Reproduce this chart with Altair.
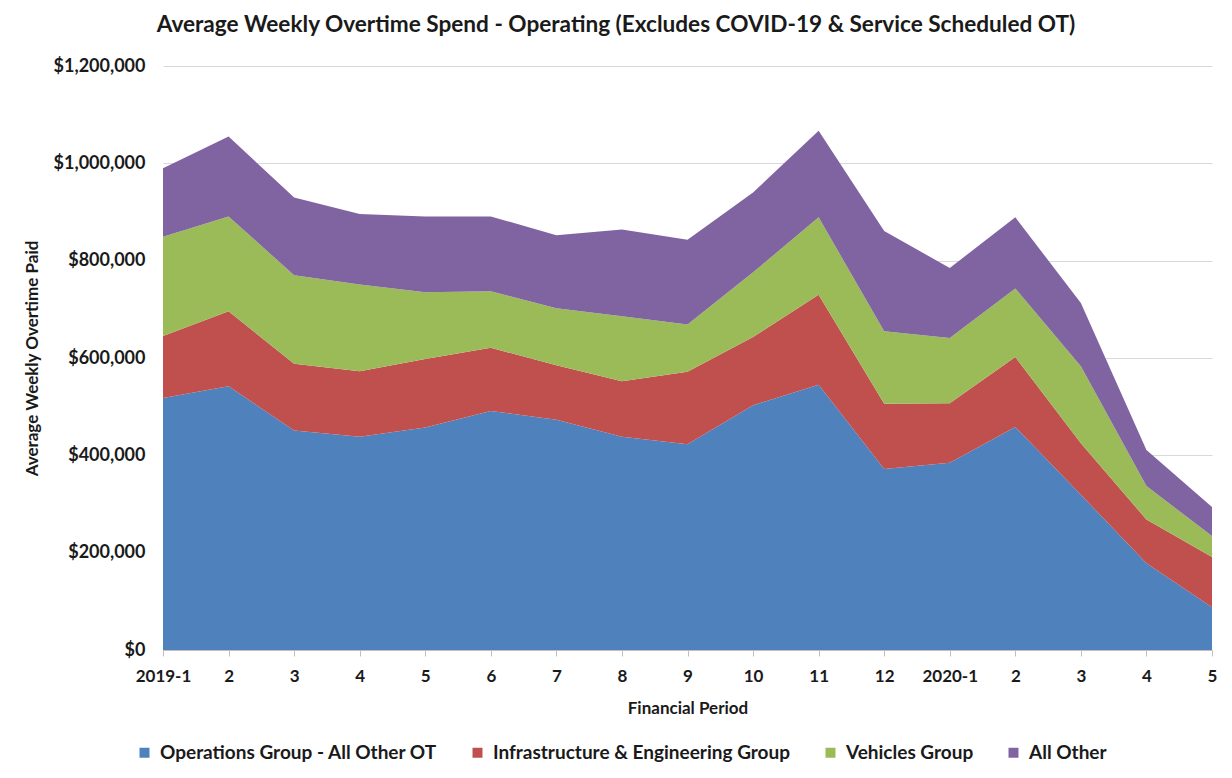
import altair as alt
import pandas as pd

periods = ["2019-1", "2", "3", "4", "5", "6", "7", "8", "9", "10", "11", "12",
           "2020-1", "2", "3", "4", "5"]
series = ["Operations Group - All Other OT", "Infrastructure & Engineering Group",
          "Vehicles Group", "All Other"]
colors = ["#4F81BD", "#C0504D", "#9BBB59", "#8064A2"]

ops = [518000, 542000, 451000, 438000, 457000, 491000, 473000, 438000, 423000,
       503000, 545000, 372000, 385000, 458000, 319000, 178000, 88000]
infra = [127000, 154000, 137000, 135000, 141000, 130000, 112000, 114000, 149000,
         140000, 185000, 134000, 122000, 144000, 106000, 90000, 103000]
vehicles = [204000, 195000, 182000, 178000, 137000, 116000, 117000, 134000, 97000,
            133000, 159000, 149000, 134000, 141000, 158000, 69000, 43000]
all_other = [141000, 164000, 160000, 145000, 156000, 154000, 150000, 178000, 174000,
             164000, 178000, 206000, 144000, 146000, 130000, 74000, 60000]

rows = []
for si, (name, vals) in enumerate(zip(series, [ops, infra, vehicles, all_other])):
    for i, v in enumerate(vals):
        rows.append({"idx": i, "period": periods[i], "series": name, "order": si, "value": v})
df = pd.DataFrame(rows)

label_arr = "[" + ",".join("'%s'" % p for p in periods) + "]"
FONT = "Lato"
TXT = "#1a1a1a"

chart = alt.Chart(df).mark_area(interpolate="linear").encode(
    x=alt.X("idx:Q",
            scale=alt.Scale(domain=[0, len(periods) - 1], nice=False, zero=False),
            axis=alt.Axis(values=list(range(len(periods))),
                          labelExpr=label_arr + "[datum.value]",
                          title="Financial Period", grid=False,
                          domainColor="#bfbfbf", tickColor="#bfbfbf", tickSize=6,
                          labelPadding=12, titlePadding=16,
                          labelFont=FONT, labelFontSize=17, labelFontWeight="bold",
                          labelColor=TXT, titleFont=FONT, titleFontSize=17,
                          titleFontWeight="bold", titleColor=TXT, labelFlush=False)),
    y=alt.Y("value:Q", stack="zero",
            scale=alt.Scale(domain=[0, 1200000], nice=False),
            axis=alt.Axis(values=[0, 200000, 400000, 600000, 800000, 1000000, 1200000],
                          format="$,d", title="Average Weekly Overtime Paid",
                          domain=False, ticks=False, gridColor="#d9d9d9",
                          labelPadding=18, titlePadding=12,
                          labelFont=FONT, labelFontSize=18, labelFontWeight="bold",
                          labelColor=TXT, titleFont=FONT, titleFontSize=17,
                          titleFontWeight="bold", titleColor=TXT)),
    color=alt.Color("series:N",
                    scale=alt.Scale(domain=series, range=colors),
                    legend=alt.Legend(title=None, orient="none", direction="horizontal",
                                      legendX=-28, legendY=677,
                                      symbolType="square", symbolSize=100,
                                      symbolStrokeWidth=0,
                                      columnPadding=30, labelOffset=6,
                                      labelFont=FONT, labelFontSize=19,
                                      labelFontWeight="bold", labelColor=TXT,
                                      labelLimit=400)),
    order=alt.Order("order:Q", sort="ascending"),
).properties(
    width=1049, height=584,
    title=alt.TitleParams("Average Weekly Overtime Spend - Operating (Excludes  COVID-19 & Service Scheduled OT)",
                          font=FONT, fontSize=22.6, fontWeight="bold", color=TXT,
                          anchor="middle", frame="bounds", offset=20, dx=-4),
    padding={"left": 155, "top": 58, "right": 12, "bottom": 120},
    autosize=alt.AutoSizeParams(type="none"),
).configure_view(stroke=None)

chart.save("out.html", embed_options={"renderer": "svg", "actions": False})
